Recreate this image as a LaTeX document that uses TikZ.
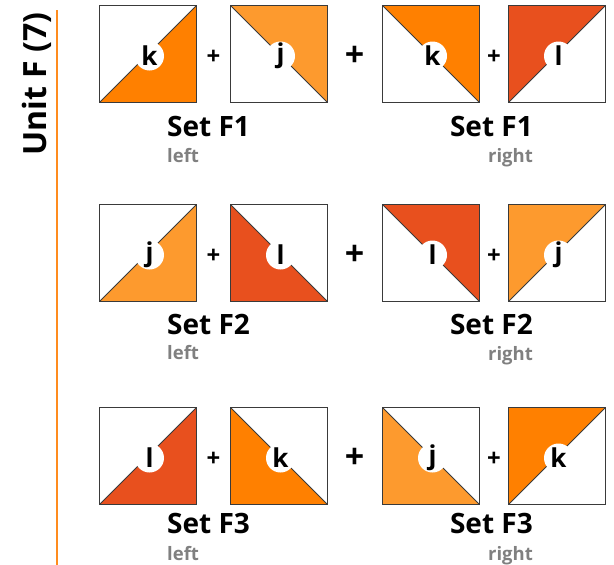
\documentclass[tikz,border=0pt]{standalone}
\usepackage{fontspec}
\setmainfont{Open Sans}
\definecolor{kcol}{RGB}{255,128,0}
\definecolor{jcol}{RGB}{253,154,46}
\definecolor{lcol}{RGB}{232,80,30}
\definecolor{edge}{RGB}{58,58,58}
\definecolor{unitline}{RGB}{255,140,30}
\definecolor{subgray}{RGB}{128,128,128}
\tikzset{
  sq/.style={inner sep=0pt, minimum size=96pt, draw=none},
  sqline/.style={draw=edge, line width=1.2pt},
  diag/.style={draw=edge, line width=1pt},
  dot/.style={circle, fill=white, inner sep=0pt, minimum size=29pt, font=\fontsize{26}{26}\selectfont\bfseries},
  smallplus/.style={font=\fontsize{24}{24}\selectfont\bfseries, inner sep=0pt},
  bigplus/.style={font=\fontsize{34}{34}\selectfont\bfseries, inner sep=0pt},
  setlbl/.style={font=\fontsize{28}{28}\selectfont\bfseries, inner sep=0pt},
  sublbl/.style={font=\fontsize{18.5}{18.5}\selectfont\bfseries, text=subgray, inner sep=0pt},
  unitlbl/.style={font=\fontsize{32}{32}\selectfont\bfseries, inner sep=0pt, rotate=90, anchor=base}
}
% tile: name, cx, cy, colour, letter, type (0=lower right, 1=upper right, 2=upper left, 3=lower left)
\newcommand\mytile[6]{%
  \node[sq] (#1) at (#2,#3) {};
  \ifcase#6\relax
    \fill[#4] (#1.south west) -- (#1.south east) -- (#1.north east) -- cycle;
    \draw[diag] (#1.south west) -- (#1.north east);
  \or
    \fill[#4] (#1.north west) -- (#1.north east) -- (#1.south east) -- cycle;
    \draw[diag] (#1.north west) -- (#1.south east);
  \or
    \fill[#4] (#1.south west) -- (#1.north west) -- (#1.north east) -- cycle;
    \draw[diag] (#1.south west) -- (#1.north east);
  \or
    \fill[#4] (#1.north west) -- (#1.south west) -- (#1.south east) -- cycle;
    \draw[diag] (#1.north west) -- (#1.south east);
  \fi
  \draw[sqline] (#1.south west) rectangle (#1.north east);
  \node[dot] (#1c) at ([xshift=1.5pt,yshift=-2pt]#1.center) {#5};
}
\begin{document}
\begin{tikzpicture}[x=1pt,y=-1pt]
\useasboundingbox (0,0) rectangle (614,565);
% unit label and line
\node[unitlbl] (unit) at (46,84) {Unit F (7)};
\coordinate (ltop) at (56.5,10);
\coordinate (lbot) at (56.5,565);
\draw[unitline, line width=2pt] (ltop) -- (lbot);
% Row 1
\mytile{a1}{148}{54}{kcol}{k}{0}
\mytile{a2}{279}{54}{jcol}{j}{1}
\mytile{a3}{431}{54}{kcol}{k}{1}
\mytile{a4}{557}{54}{lcol}{l}{2}
\node[smallplus] (ap1) at (213.5,57) {+};
\node[bigplus] (ap2) at (354.5,56) {+};
\node[smallplus] (ap3) at (494,57) {+};
\node[setlbl, anchor=base west] (as1) at (167,136) {Set F1};
\node[setlbl, anchor=base east] (as2) at (533,136) {Set F1};
\node[sublbl, anchor=base west] (al1) at (167,162) {left};
\node[sublbl, anchor=base east] (al2) at (533,162) {right};
% Row 2
\mytile{b1}{148}{253}{jcol}{j}{0}
\mytile{b2}{279}{253}{lcol}{l}{3}
\mytile{b3}{431}{253}{lcol}{l}{1}
\mytile{b4}{557}{253}{jcol}{j}{2}
\node[smallplus] (bp1) at (213.5,256) {+};
\node[bigplus] (bp2) at (354.5,255) {+};
\node[smallplus] (bp3) at (494,256) {+};
\node[setlbl, anchor=base west] (bs1) at (167,334) {Set F2};
\node[setlbl, anchor=base east] (bs2) at (533,334) {Set F2};
\node[sublbl, anchor=base west] (bl1) at (167,359) {left};
\node[sublbl, anchor=base east] (bl2) at (533,360) {right};
% Row 3
\mytile{c1}{148}{456}{lcol}{l}{0}
\mytile{c2}{279}{456}{kcol}{k}{3}
\mytile{c3}{431}{456}{jcol}{j}{3}
\mytile{c4}{557}{456}{kcol}{k}{2}
\node[smallplus] (cp1) at (213.5,459) {+};
\node[bigplus] (cp2) at (354.5,458) {+};
\node[smallplus] (cp3) at (494,459) {+};
\node[setlbl, anchor=base west] (cs1) at (167,533) {Set F3};
\node[setlbl, anchor=base east] (cs2) at (533,533) {Set F3};
\node[sublbl, anchor=base west] (cl1) at (167,560) {left};
\node[sublbl, anchor=base east] (cl2) at (533,560) {right};
\end{tikzpicture}
\end{document}
